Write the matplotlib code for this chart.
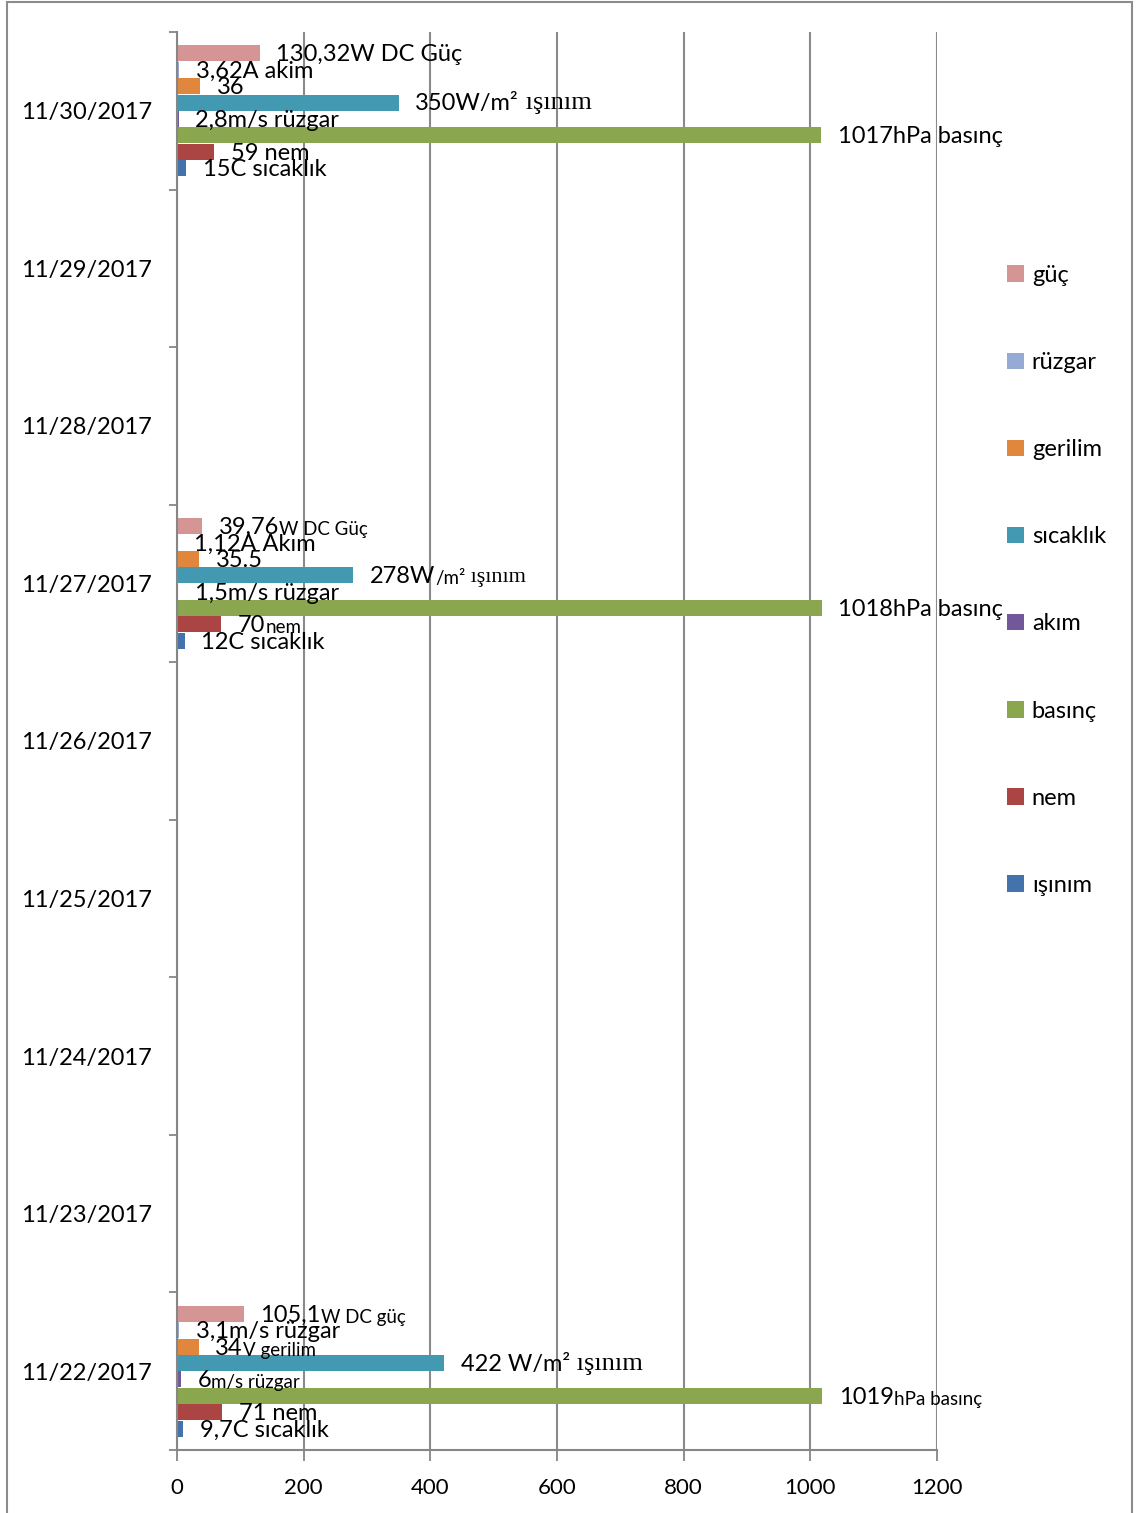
import matplotlib
matplotlib.use("Agg")
import matplotlib.pyplot as plt
import numpy as np
from matplotlib.patches import Rectangle

nan = np.nan

# categories (bottom -> top)
dates = ['11/22/2017', '11/23/2017', '11/24/2017', '11/25/2017', '11/26/2017',
         '11/27/2017', '11/28/2017', '11/29/2017', '11/30/2017']

# series, first one drawn at the bottom of each group
series_names = ['ışınım', 'nem', 'basınç', 'akım', 'sıcaklık', 'gerilim', 'rüzgar', 'güç']
isinim = [9.7, nan, nan, nan, nan, 12, nan, nan, 15]
nem = [71, nan, nan, nan, nan, 70, nan, nan, 59]
basinc = [1019, nan, nan, nan, nan, 1018, nan, nan, 1017]
akim = [6, nan, nan, nan, nan, 1.5, nan, nan, 2.8]
sicaklik = [422, nan, nan, nan, nan, 278, nan, nan, 350]
gerilim = [34, nan, nan, nan, nan, 35.5, nan, nan, 36]
ruzgar = [3.1, nan, nan, nan, nan, 1.12, nan, nan, 3.62]
guc = [105.1, nan, nan, nan, nan, 39.76, nan, nan, 130.32]
colors = ['#4472AA', '#AA4543', '#8AA64E', '#72589A', '#4399B1', '#E0863D', '#95ABD5', '#D59594']

# data labels as typed in the sheet: (main text, [(suffix, style), ...]) per date index
# style: 's' small sans, 'r' serif, 'rs' small serif
labels = {
    0: [  # 11/22
        ('9,7C sıcaklık', []), ('71 nem', []), ('1019', [('hPa basınç', 's')]),
        ('6', [('m/s rüzgar', 's')]), ('422 W/m²', [(' ışınım', 'r')]),
        ('34', [('V gerilim', 's')]), ('3,1m/s rüzgar', []), ('105,1', [('W DC güç', 's')]),
    ],
    5: [  # 11/27
        ('12C sıcaklık', []), ('70', [('nem', 's')]), ('1018hPa basınç', []),
        ('1,5m/s rüzgar', []), ('278W', [('/m²', 's'), (' ışınım', 'rs')]),
        ('35.5', []), ('1,12A Akım', []), ('39,76', [('W DC Güç', 's')]),
    ],
    8: [  # 11/30
        ('15C sıcaklık', []), ('59 nem', []), ('1017hPa basınç', []),
        ('2,8m/s rüzgar', []), ('350W/m²', [(' ışınım', 'r')]),
        ('36', []), ('3,62A akim', []), ('130,32W DC Güç', []),
    ],
}

plt.rcParams['font.family'] = ['Lato', 'DejaVu Sans']
FS = 17

fig = plt.figure(figsize=(11.36, 15.13), dpi=100)
ax = fig.add_axes([177 / 1136, 63 / 1513, 760 / 1136, 1418 / 1513])

values = [isinim, nem, basinc, akim, sicaklik, gerilim, ruzgar, guc]
y = np.arange(len(dates))
h = 0.104
bars = []
for i, (name, vals, c) in enumerate(zip(series_names, values, colors)):
    b = ax.barh(y + (i - 3.5) * h, vals, height=h * 0.97, color=c, label=name, zorder=2)
    bars.append(b)

# data labels
sans = ['Lato', 'DejaVu Sans']
serif = ['Liberation Serif', 'DejaVu Serif']
styles = {'s': (13.5, sans), 'r': (19, serif), 'rs': (16, serif)}
for di, labs in labels.items():
    for i, (main, parts) in enumerate(labs):
        v = values[i][di]
        t = ax.annotate(main, xy=(v, y[di] + (i - 3.5) * h), xytext=(12, -1),
                        textcoords='offset points', va='center', ha='left',
                        fontsize=FS, zorder=5)
        prev = t
        for txt, st in parts:
            size, fam = styles[st]
            prev = ax.annotate(txt, xy=(1, 0), xycoords=prev, va='bottom', ha='left',
                               fontsize=size, family=fam, zorder=5)

ax.set_xlim(0, 1200)
ax.set_ylim(-0.5, len(dates) - 0.5)
ax.set_xticks(np.arange(0, 1201, 200))
ax.set_yticks(y)
ax.set_yticklabels(dates)
ax.set_yticks(np.arange(-0.5, len(dates), 1), minor=True)
ax.tick_params(axis='y', which='major', length=0, pad=18, labelsize=FS)
ax.tick_params(axis='y', which='minor', length=6, width=1.3, color='#868686')
ax.tick_params(axis='x', length=8, width=1.3, color='#868686', pad=12, labelsize=16)

ax.grid(axis='x', color='#8a8a8a', linewidth=1.5, zorder=0)
ax.set_axisbelow(True)
for s in ['top', 'right']:
    ax.spines[s].set_visible(False)
for s in ['left', 'bottom']:
    ax.spines[s].set_color('#868686')
    ax.spines[s].set_linewidth(1.5)

# legend, top entry = last series
handles = bars[::-1]
fig.legend(handles, [b.get_label() for b in handles], loc='upper left',
           bbox_to_anchor=(1007 / 1136, 1 - 265 / 1513), frameon=False,
           fontsize=FS, labelspacing=2.8, handlelength=0.7, handleheight=0.7,
           handletextpad=0.35, borderpad=0, borderaxespad=0)

# outer chart border
fig.patches.append(Rectangle((7 / 1136, -0.01), 1125 / 1136, 1.01 - 2 / 1513,
                             transform=fig.transFigure, fill=False,
                             edgecolor='#8c8c8c', linewidth=1.5))

fig.savefig('out.png', dpi=100)
